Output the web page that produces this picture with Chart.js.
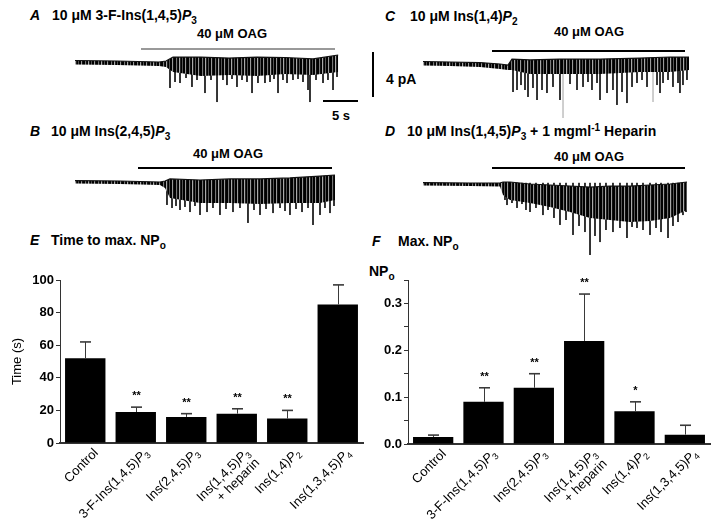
<!DOCTYPE html>
<html><head><meta charset="utf-8">
<script src="https://cdn.jsdelivr.net/npm/chart.js@4/dist/chart.umd.min.js"></script>
<style>
html,body{margin:0;padding:0;background:#fff;}
#wrap{position:relative;width:720px;height:522px;overflow:hidden;font-family:"Liberation Sans",Arial,sans-serif;color:#000;}
.t{position:absolute;font-weight:bold;font-size:14px;white-space:nowrap;line-height:14px;transform:translateY(-50%);}
.s13{font-size:13px;}
.c{transform:translate(-50%,-50%);}
.pl{font-style:italic;}
sub{font-size:72%;vertical-align:baseline;position:relative;top:0.35em;line-height:0;}
sup{font-size:72%;vertical-align:baseline;position:relative;top:-0.45em;line-height:0;}
.ln{position:absolute;background:#000;}
canvas{position:absolute;}
</style>
</head><body>
<div id="wrap">
  <!-- panel A -->
  <div class="t pl" style="left:30px;top:15px;">A</div>
  <div class="t" style="left:52px;top:15px;">10 μM 3-F-Ins(1,4,5)<i>P</i><sub>3</sub></div>
  <div class="t c s13" style="left:232px;top:34px;">40 μM OAG</div>
  <div class="ln" style="left:141px;top:48px;width:194px;height:1.5px;background:#999;"></div>
  <!-- panel C -->
  <div class="t pl" style="left:385px;top:16px;">C</div>
  <div class="t" style="left:410px;top:16px;">10 μM Ins(1,4)<i>P</i><sub>2</sub></div>
  <div class="t c s13" style="left:589px;top:32px;">40 μM OAG</div>
  <div class="ln" style="left:492px;top:50px;width:193px;height:2px;"></div>
  <!-- scale bars -->
  <div class="ln" style="left:323px;top:100px;width:35px;height:2px;"></div>
  <div class="t c s13" style="left:341px;top:116px;">5 s</div>
  <div class="ln" style="left:372px;top:52px;width:2px;height:45px;"></div>
  <div class="t" style="left:386px;top:79px;">4 pA</div>
  <!-- panel B -->
  <div class="t pl" style="left:30px;top:131px;">B</div>
  <div class="t" style="left:51px;top:131px;">10 μM Ins(2,4,5)<i>P</i><sub>3</sub></div>
  <div class="t c s13" style="left:228px;top:154px;">40 μM OAG</div>
  <div class="ln" style="left:138px;top:167px;width:194px;height:2px;"></div>
  <!-- panel D -->
  <div class="t pl" style="left:385px;top:131px;">D</div>
  <div class="t" style="left:407px;top:131px;">10 μM Ins(1,4,5)<i>P</i><sub>3</sub> + 1 mgml<sup>-1</sup> Heparin</div>
  <div class="t c s13" style="left:589px;top:157px;">40 μM OAG</div>
  <div class="ln" style="left:492px;top:167px;width:193px;height:2px;"></div>
  <!-- panel E / F titles -->
  <div class="t pl" style="left:30px;top:240px;">E</div>
  <div class="t" style="left:51px;top:240px;">Time to max. NP<sub>o</sub></div>
  <div class="t pl" style="left:372px;top:241px;">F</div>
  <div class="t" style="left:398px;top:241px;">Max. NP<sub>o</sub></div>
  <div class="t" style="left:369px;top:271px;">NP<sub>o</sub></div>

  <canvas id="trA" width="275" height="70" style="left:70px;top:40px;"></canvas>
  <canvas id="trC" width="275" height="85" style="left:418px;top:45px;"></canvas>
  <canvas id="trB" width="275" height="62" style="left:70px;top:170px;"></canvas>
  <canvas id="trD" width="275" height="92" style="left:418px;top:172px;"></canvas>
  <canvas id="chE" width="370" height="262" style="left:0px;top:260px;"></canvas>
  <canvas id="chF" width="360" height="262" style="left:360px;top:260px;"></canvas>
</div>
<script>
// ---------------- data ----------------
const categories = ['Control', '3-F-Ins(1,4,5)<i>P</i><sub>3</sub>', 'Ins(2,4,5)<i>P</i><sub>3</sub>',
  ['Ins(1,4,5)<i>P</i><sub>3</sub>', '+ heparin'], 'Ins(1,4)<i>P</i><sub>2</sub>', 'Ins(1,3,4,5)<i>P</i><sub>4</sub>'];
const timeMean = [52, 19, 16, 18, 15, 85];
const timeSem  = [10, 3, 2, 3, 5, 12];
const timeSig  = ['', '**', '**', '**', '**', ''];
const timeTicks = [0, 20, 40, 60, 80, 100];
const npoMean = [0.015, 0.09, 0.12, 0.22, 0.07, 0.02];
const npoSem  = [0.004, 0.03, 0.03, 0.10, 0.02, 0.02];
const npoSig  = ['', '**', '**', '**', '*', ''];
const npoTicks = [0, 0.1, 0.2, 0.3];

// current traces: time (s) and current (pA, relative to pre-OAG baseline)
const traceA_bandT  = [0, 6, 12, 13, 14, 18, 22, 26, 30, 34, 37.6];
const traceA_bandHi = [0.22, 0.18, 0.09, 0.18, 0.53, 0.53, 0.44, 0.53, 0.49, 0.36, 0.71];
const traceA_bandLo = [-0.13, -0.18, -0.27, -0.36, -0.8, -1.16, -1.07, -1.16, -0.98, -1.07, -0.8];
const traceA_spikeT = [13.57, 14.29, 15.0, 15.86, 16.71, 17.43, 18.57, 19.43, 20.29, 21.14, 21.71, 22.43, 23.14, 23.86, 24.57, 25.29, 26.14, 27.14, 27.86, 28.43, 29.0, 29.71, 30.29, 31.14, 31.86, 32.57, 33.29, 33.57, 34.43, 35.43, 36.14, 36.86, 37.43];
const traceA_spikeA = [-2.22, -1.69, -1.78, -1.33, -2.13, -1.51, -2.67, -1.51, -3.47, -1.51, -1.96, -1.42, -2.13, -1.51, -1.69, -2.67, -1.78, -1.78, -1.69, -1.42, -2.67, -1.51, -1.78, -1.51, -1.42, -1.69, -2.4, -3.47, -1.51, -1.78, -1.51, -2.4, -1.24];

const traceC_bandT  = [0, 3.86, 8.14, 11.0, 12.14, 12.71, 15.29, 19.57, 25.29, 31.0, 35.29, 38.0];
const traceC_bandHi = [0.22, 0.18, 0.13, 0, -0.09, 0.44, 0.36, 0.44, 0.44, 0.53, 0.62, 0.62];
const traceC_bandLo = [-0.13, -0.18, -0.27, -0.44, -0.53, -0.53, -0.89, -0.89, -0.89, -0.71, -0.71, -0.53];
const traceC_spikeT = [12.86, 13.43, 14.0, 14.57, 15.0, 15.71, 16.29, 17.0, 17.71, 18.57, 19.57, 21.0, 22.0, 22.86, 23.57, 24.14, 24.86, 25.29, 26.29, 27.14, 27.71, 28.43, 29.14, 29.86, 30.57, 31.29, 32.0, 33.43, 33.86, 34.29, 35.0, 35.71, 36.43, 36.71, 37.14, 37.71];
const traceC_spikeA = [-2.49, -2.31, -1.87, -2.31, -2.93, -2.13, -3.2, -2.31, -2.58, -2.04, -3.2, -1.78, -2.31, -2.04, -1.6, -2.31, -1.69, -3.2, -2.58, -2.31, -3.64, -2.49, -3.47, -2.04, -1.69, -1.42, -2.04, -1.87, -2.58, -1.69, -1.42, -2.04, -1.69, -2.58, -1.87, -1.42];
const traceC_faintT = [20.0, 32.86];
const traceC_faintA = [-4.8, -3.38];

const traceB_bandT  = [0, 6.43, 12.14, 12.86, 13.57, 17.86, 22.14, 26.43, 30.71, 35.0, 37.14];
const traceB_bandHi = [0.13, 0.09, 0, 0.09, 0.27, 0.18, 0.27, 0.27, 0.36, 0.53, 0.62];
const traceB_bandLo = [-0.13, -0.18, -0.27, -0.53, -1.42, -1.87, -1.87, -1.96, -1.87, -1.87, -1.6];
const traceB_spikeT = [13.14, 13.86, 14.43, 15.0, 15.71, 16.43, 17.14, 17.86, 18.86, 19.71, 20.71, 21.57, 22.57, 23.57, 24.71, 25.57, 26.43, 27.29, 28.29, 29.29, 30.0, 30.71, 31.57, 32.43, 33.29, 34.0, 35.0, 35.71, 36.43, 37.0];
const traceB_spikeA = [-2.04, -2.31, -2.13, -2.49, -2.22, -2.67, -2.13, -2.93, -2.67, -2.31, -2.93, -2.4, -2.67, -2.31, -3.64, -2.49, -2.93, -2.4, -2.76, -2.31, -2.58, -2.93, -2.4, -2.67, -2.31, -3.82, -2.93, -2.31, -2.76, -2.13];

const traceD_bandT  = [0, 6.71, 11.0, 11.43, 12.43, 15.29, 18.14, 21.0, 23.86, 26.71, 29.57, 32.43, 35.29, 37.71];
const traceD_bandHi = [0.13, 0.09, 0.09, 0.18, 0.18, 0, -0.09, -0.18, -0.27, -0.18, -0.18, -0.09, 0, 0.18];
const traceD_bandLo = [-0.13, -0.18, -0.22, -0.98, -1.42, -1.69, -2.04, -2.49, -3.02, -3.2, -3.38, -3.29, -3.02, -2.31];
const traceD_spikeT = [11.71, 12.0, 12.71, 13.43, 14.14, 14.71, 15.29, 16.14, 17.14, 17.86, 18.71, 19.57, 20.43, 21.43, 22.29, 23.14, 23.86, 24.57, 25.29, 26.14, 27.14, 28.14, 29.14, 29.86, 30.57, 31.43, 32.43, 33.29, 34.0, 35.0, 35.71, 36.43, 37.14, 37.57];
const traceD_spikeA = [-1.42, -1.87, -1.69, -2.13, -1.78, -2.31, -2.49, -2.13, -2.76, -2.31, -3.02, -3.64, -3.2, -4.53, -3.73, -4.27, -6.31, -4.62, -5.16, -4.09, -4.27, -3.91, -4.8, -3.82, -3.91, -4.09, -4.53, -3.91, -4.27, -4.8, -3.73, -3.38, -2.76, -2.49];

// ---------------- helpers ----------------
const FAM = '"Liberation Sans", Arial, sans-serif';
const PX_PER_S = 7, PX_PER_PA = 11.25;

function bandPattern(ctx) {
  const c = document.createElement('canvas'); c.width = 13; c.height = 1;
  const g = c.getContext('2d');
  const cols = ['#000', '#000', '#777', '#111', '#000', '#aaa', '#222', '#000', '#555', '#000', '#000', '#999', '#111'];
  cols.forEach((col, i) => { g.fillStyle = col; g.fillRect(i, 0, 1, 1); });
  return ctx.createPattern(c, 'repeat');
}

function traceChart(id, startOffsetPx, baselinePx, bandT, bandHi, bandLo, spikeT, spikeA, faintT, faintA) {
  const cv = document.getElementById(id);
  const W = cv.width, H = cv.height;
  const xMin = -startOffsetPx / PX_PER_S, xMax = (W - startOffsetPx) / PX_PER_S;
  const yMax = baselinePx / PX_PER_PA, yMin = -(H - baselinePx) / PX_PER_PA;
  const spikes = [];
  spikeT.forEach((t, i) => { spikes.push({x: t, y: 0.1}, {x: t, y: spikeA[i]}, {x: t, y: null}); });
  const faint = [];
  (faintT || []).forEach((t, i) => { faint.push({x: t, y: 0}, {x: t, y: faintA[i]}, {x: t, y: null}); });
  const pat = bandPattern(cv.getContext('2d'));
  new Chart(cv, {
    type: 'line',
    data: { datasets: [
      { data: bandT.map((t, i) => ({x: t, y: bandHi[i]})), borderColor: '#111', borderWidth: 1.2, pointRadius: 0, fill: false, tension: 0 },
      { data: bandT.map((t, i) => ({x: t, y: bandLo[i]})), borderColor: 'rgba(0,0,0,0)', borderWidth: 0, pointRadius: 0, fill: '-1', backgroundColor: pat, tension: 0 },
      { data: faint, borderColor: '#c8c8c8', borderWidth: 1, pointRadius: 0, spanGaps: false },
      { data: spikes, borderColor: '#1a1a1a', borderWidth: 1, pointRadius: 0, spanGaps: false }
    ]},
    options: {
      responsive: false, animation: false, devicePixelRatio: 1,
      layout: { padding: 0 },
      plugins: { legend: { display: false }, tooltip: { enabled: false } },
      scales: {
        x: { type: 'linear', display: false, min: xMin, max: xMax },
        y: { type: 'linear', display: false, min: yMin, max: yMax }
      }
    }
  });
}

function parseRich(s) {
  const segs = []; const re = /<(i|sub|sup)>(.*?)<\/\1>/g; let last = 0, m;
  while ((m = re.exec(s))) {
    if (m.index > last) segs.push({t: s.slice(last, m.index), k: 'n'});
    segs.push({t: m[2], k: m[1]}); last = re.lastIndex;
  }
  if (last < s.length) segs.push({t: s.slice(last), k: 'n'});
  return segs;
}
function fontFor(k, size) {
  if (k === 'i') return 'italic ' + size + 'px ' + FAM;
  if (k === 'sub' || k === 'sup') return Math.round(size * 0.72) + 'px ' + FAM;
  return size + 'px ' + FAM;
}
function drawRich(ctx, s, xRight, y, size) {
  const segs = parseRich(s); let w = 0;
  segs.forEach(g => { ctx.font = fontFor(g.k, size); g.w = ctx.measureText(g.t).width; w += g.w; });
  let x = xRight - w;
  segs.forEach(g => {
    ctx.font = fontFor(g.k, size);
    const dy = g.k === 'sub' ? size * 0.32 : (g.k === 'sup' ? -size * 0.4 : 0);
    ctx.fillText(g.t, x, y + dy); x += g.w;
  });
}
const plainLabel = l => (Array.isArray(l) ? l : [l]).map(s => s.replace(/<[^>]+>/g, '')).join(' ');

const extrasPlugin = {
  id: 'extras',
  afterDatasetsDraw(chart, args, opts) {
    const ctx = chart.ctx, meta = chart.getDatasetMeta(0), ys = chart.scales.y;
    const vals = chart.data.datasets[0].data;
    ctx.save();
    meta.data.forEach((bar, i) => {
      const top = ys.getPixelForValue(vals[i] + opts.sem[i]);
      const x = Math.round(bar.x) + 0.5;
      ctx.strokeStyle = '#3a3a3a'; ctx.lineWidth = 1;
      ctx.beginPath(); ctx.moveTo(x, bar.y); ctx.lineTo(x, top); ctx.stroke();
      ctx.lineWidth = 1.6;
      ctx.beginPath(); ctx.moveTo(x - 5.5, top); ctx.lineTo(x + 5.5, top); ctx.stroke();
      if (opts.sig[i]) {
        ctx.fillStyle = '#000'; ctx.font = 'bold 11px ' + FAM;
        ctx.textAlign = 'center'; ctx.textBaseline = 'alphabetic';
        ctx.fillText(opts.sig[i], x, top - 14 + 6);
      }
    });
    ctx.restore();
  },
  afterDraw(chart, args, opts) {
    const ctx = chart.ctx, xs = chart.scales.x, area = chart.chartArea;
    ctx.save();
    ctx.fillStyle = '#000'; ctx.textAlign = 'left'; ctx.textBaseline = 'middle';
    categories.forEach((lab, i) => {
      const lines = Array.isArray(lab) ? lab : [lab];
      ctx.save();
      ctx.translate(xs.getPixelForValue(i) + 11, area.bottom + 8);
      ctx.rotate(-Math.PI / 4);
      lines.forEach((ln, j) => drawRich(ctx, ln, 0, j * 14, 13));
      ctx.restore();
    });
    ctx.restore();
  }
};

function barChart(id, means, sem, sig, yMax, step, majorTicks, yLeftW, xAxisH, padRight, fmt, yTitle) {
  const cv = document.getElementById(id);
  return new Chart(cv, {
    type: 'bar',
    data: { labels: categories.map(plainLabel),
      datasets: [{ data: means, backgroundColor: '#000', borderWidth: 0, barPercentage: 0.8, categoryPercentage: 1.0 }] },
    plugins: [extrasPlugin],
    options: {
      responsive: false, animation: false, devicePixelRatio: 1,
      layout: { padding: { top: 20, right: padRight, left: 0, bottom: 0 } },
      plugins: { legend: { display: false }, tooltip: { enabled: false }, extras: { sem: sem, sig: sig } },
      scales: {
        x: { grid: { display: false }, border: { color: '#333', width: 2 },
             ticks: { display: false },
             afterFit: s => { s.height = xAxisH; } },
        y: { min: 0, max: yMax,
             afterBuildTicks: s => { const t = []; for (let v = 0; v <= yMax + 1e-9; v += step) t.push({value: +v.toFixed(4)}); s.ticks = t; },
             ticks: { color: '#000', padding: 2, font: { family: FAM, size: 13, weight: 'bold' },
                      callback: v => majorTicks.some(m => Math.abs(m - v) < 1e-6) ? fmt(v) : '' },
             grid: { drawOnChartArea: false, drawTicks: true, tickLength: 4, color: '#333' },
             border: { color: '#333', width: 1 },
             title: yTitle ? { display: true, text: yTitle, color: '#000', font: { family: FAM, size: 13 }, padding: { top: 10, bottom: 0 } } : { display: false },
             afterFit: s => { s.width = yLeftW; } }
      }
    }
  });
}

// ---------------- draw ----------------
traceChart('trA', 5, 23, traceA_bandT, traceA_bandHi, traceA_bandLo, traceA_spikeT, traceA_spikeA);
traceChart('trC', 5, 19, traceC_bandT, traceC_bandHi, traceC_bandLo, traceC_spikeT, traceC_spikeA, traceC_faintT, traceC_faintA);
traceChart('trB', 5, 12, traceB_bandT, traceB_bandHi, traceB_bandLo, traceB_spikeT, traceB_spikeA);
traceChart('trD', 5, 12, traceD_bandT, traceD_bandHi, traceD_bandLo, traceD_spikeT, traceD_spikeA);

barChart('chE', timeMean, timeSem, timeSig, 100, 10, timeTicks, 60, 79, 7, v => String(v), 'Time (s)');
barChart('chF', npoMean, npoSem, npoSig, 0.35, 0.05, npoTicks, 48, 78, 10, v => v.toFixed(1), null);
</script>
</body></html>
